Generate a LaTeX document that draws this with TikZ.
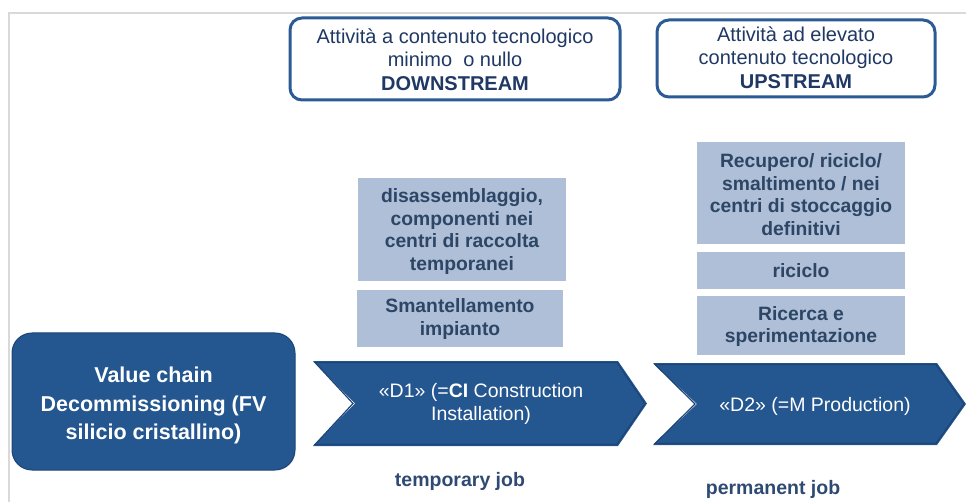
\documentclass[tikz,border=0pt]{standalone}
\usepackage{fontspec}
\setmainfont{Liberation Sans}
\usetikzlibrary{calc}
\definecolor{navy}{HTML}{1F3864}
\definecolor{bluefill}{HTML}{24568F}
\definecolor{blueedge}{HTML}{1B4576}
\definecolor{boxborder}{HTML}{2B5A94}
\definecolor{lightfill}{HTML}{AEBFD7}
\definecolor{lighttext}{HTML}{2D4665}
\definecolor{labeltext}{HTML}{2E4A73}
\definecolor{framegray}{HTML}{D9D9D9}
\tikzset{
  topbox/.style={draw=boxborder, line width=3pt, rounded corners=12pt, fill=white, inner sep=0pt},
  toptext/.style={text=navy, align=center, inner sep=0pt, font=\fontsize{20}{23.5}\selectfont},
  lightbox/.style={fill=lightfill, inner sep=0pt},
  lighttxt/.style={text=lighttext, align=center, inner sep=0pt,
    font=\bfseries\fontsize{19.3}{22.5}\selectfont},
  chevtext/.style={text=white, align=center, inner sep=0pt, font=\fontsize{19.5}{23}\selectfont},
  joblabel/.style={text=labeltext, inner sep=0pt, font=\bfseries\fontsize{19.5}{23}\selectfont},
}
\begin{document}
\begin{tikzpicture}[x=1pt,y=-1pt]
\useasboundingbox (0,0) rectangle (966,502);
% frame lines
\draw[framegray, line width=2pt] (9,502) -- (9,13) -- (966,13);

% top boxes
\node[topbox, minimum width=330pt, minimum height=82pt] (down) at (455,59) {};
\node[toptext] (downt) at ($(down.center)+(0,0.5)$)
  {Attività a contenuto tecnologico\\minimo\ \ o nullo\\\textbf{DOWNSTREAM}};
\node[topbox, minimum width=278pt, minimum height=77pt] (up) at (796,58.5) {};
\node[toptext] (upt) at ($(up.center)+(0,-1)$)
  {Attività ad elevato\\contenuto tecnologico\\\textbf{UPSTREAM}};

% light boxes
\node[lightbox, minimum width=208pt, minimum height=103pt] (disas) at (462,229.5) {};
\node[lighttxt] (disast) at ($(disas.center)+(0,2)$)
  {disassemblaggio,\\componenti nei\\centri di raccolta\\temporanei};
\node[lightbox, minimum width=206pt, minimum height=57pt] (smant) at (460,318.5) {};
\node[lighttxt] (smantt) at ($(smant.center)+(0,0.5)$) {Smantellamento\\impianto};
\node[lightbox, minimum width=208pt, minimum height=102pt] (recup) at (801,193) {};
\node[lighttxt] (recupt) at ($(recup.center)+(0,1.5)$)
  {Recupero/ riciclo/\\smaltimento / nei\\centri di stoccaggio\\definitivi};
\node[lightbox, minimum width=208pt, minimum height=37pt] (ricic) at (801,270.5) {};
\node[lighttxt] (ricict) at ($(ricic.center)+(0,0.5)$) {riciclo};
\node[lightbox, minimum width=208pt, minimum height=59pt] (ricer) at (801,325.5) {};
\node[lighttxt] (ricert) at ($(ricer.center)+(0,1)$) {Ricerca e\\sperimentazione};

% left value chain box
\node[fill=bluefill, draw=blueedge, line width=1pt, rounded corners=20pt,
  minimum width=283pt, minimum height=137pt, inner sep=0pt] (vc) at (153.5,401.5) {};
\node[text=white, align=center, inner sep=0pt,
  font=\bfseries\fontsize{21.5}{28.5}\selectfont] (vct) at ($(vc.center)+(0,4)$)
  {Value chain\\Decommissioning (FV\\silicio cristallino)};

% chevrons
\fill[bluefill] (313,361) -- (618,361) -- (647,403.5) -- (618,446) -- (313,446) -- (355,403.5) -- cycle;
\draw[blueedge, line width=1.2pt] (315,362.5) -- (617,362.5) -- (645,403.5) -- (617,444.5) -- (315,444.5) -- (353,403.5) -- cycle;
\node[chevtext] (d1) at (481,404) {«D1» (=\textbf{CI} Construction\\Installation)};

\fill[bluefill] (653,363) -- (937,363) -- (966,404) -- (937,445) -- (653,445) -- (697,404) -- cycle;
\draw[blueedge, line width=1.2pt] (655,364.5) -- (936,364.5) -- (964,404) -- (936,443.5) -- (655,443.5) -- (695,404) -- cycle;
\node[chevtext] (d2) at (815,406) {«D2» (=M Production)};

% job labels
\node[joblabel] (tj) at (460,481) {temporary job};
\node[joblabel] (pj) at (773,489) {permanent job};
\end{tikzpicture}
\end{document}
